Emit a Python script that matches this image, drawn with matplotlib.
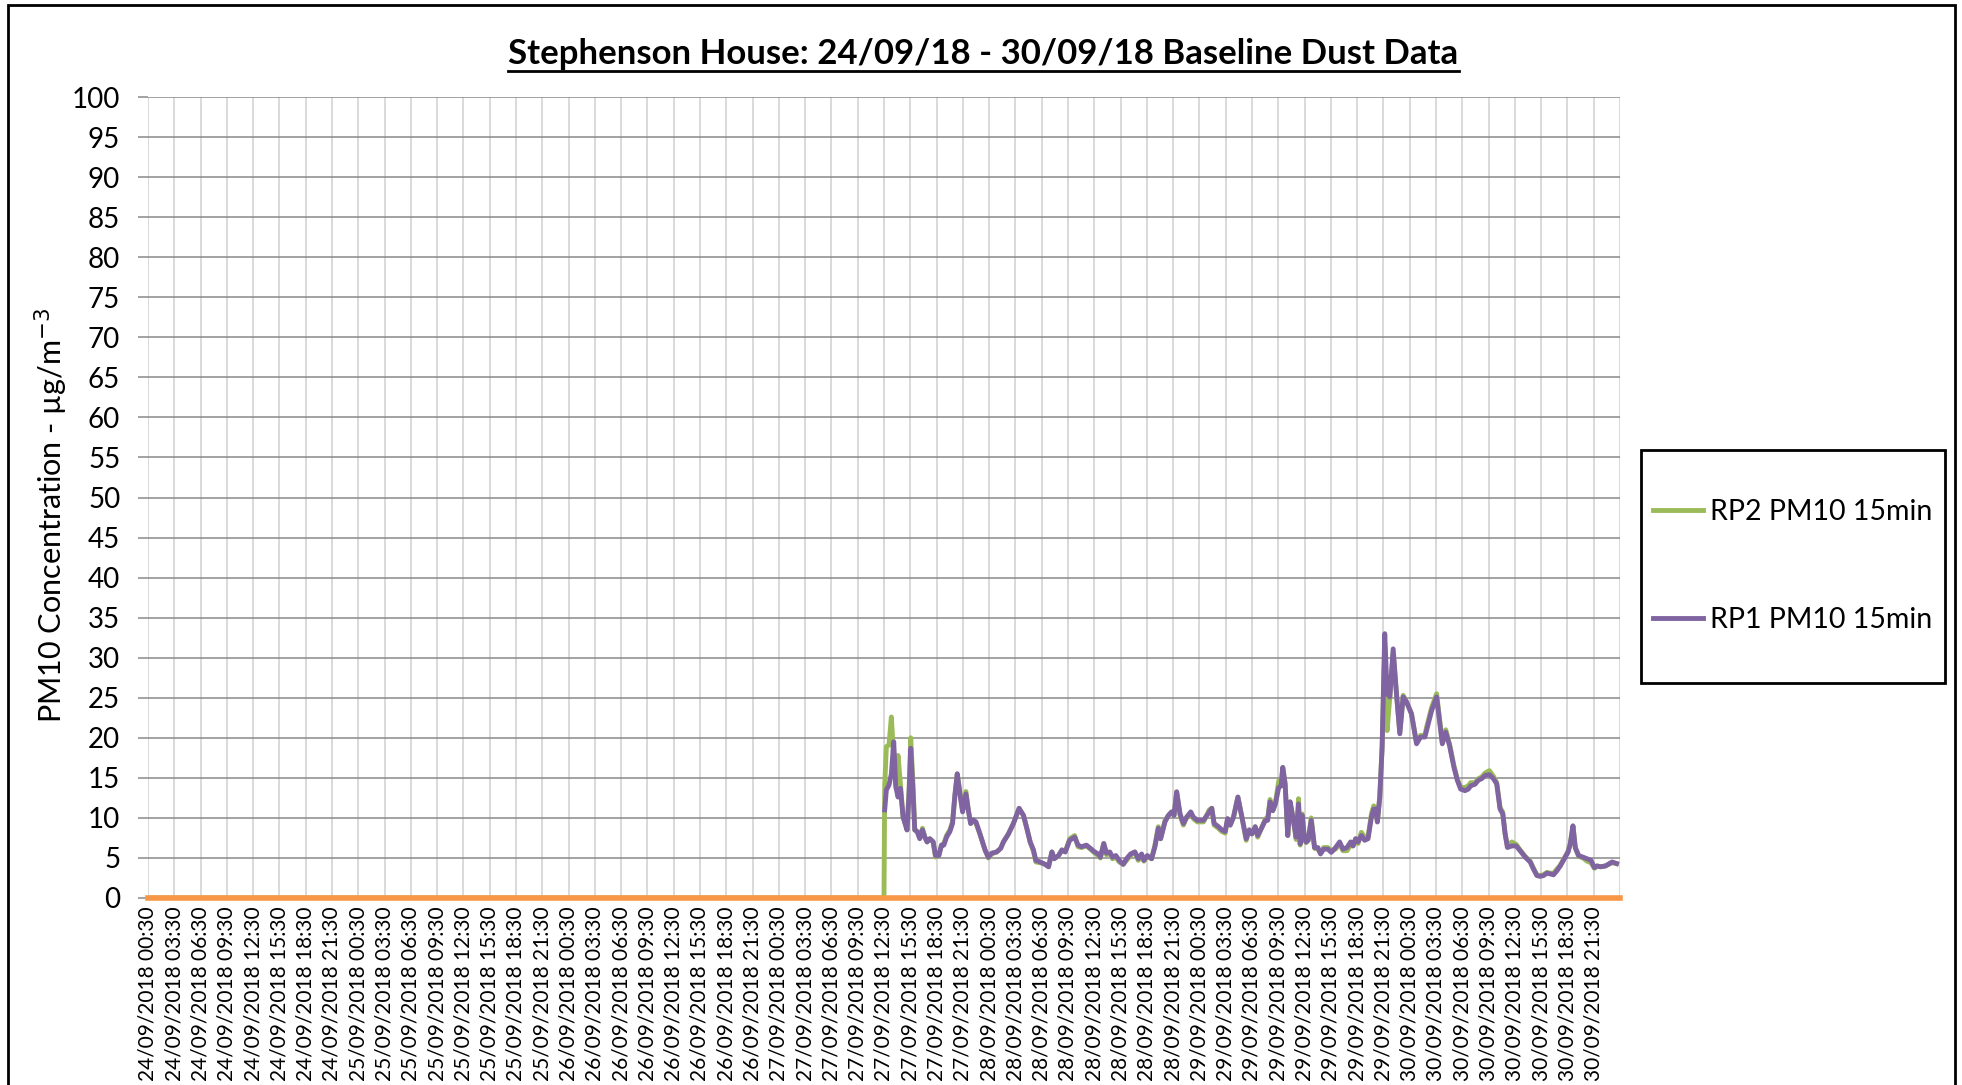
import pandas as pd
import matplotlib
matplotlib.use('Agg')
import matplotlib.pyplot as plt
from matplotlib.patches import Rectangle
from matplotlib.lines import Line2D

plt.rcParams['font.family'] = ['Lato', 'DejaVu Sans']

# x = hours after 24/09/2018 00:30 (15 min logger data)
hours = [84.08, 84.27, 84.57, 84.84, 85.11, 85.34, 85.60, 85.87, 86.18, 86.63,
         86.86, 87.05, 87.32, 87.51, 87.78, 88.08, 88.39, 88.66, 88.92, 89.23,
         89.61, 89.88, 90.26, 90.56, 90.83, 91.14, 91.52, 91.82, 92.09, 92.36,
         92.66, 92.97, 93.35, 93.62, 93.89, 94.19, 94.50, 94.95, 95.53, 95.91,
         96.29, 96.86, 97.32, 97.63, 98.20, 98.77, 99.42, 99.92, 100.30, 100.68,
         101.06, 101.33, 101.82, 102.40, 102.78, 103.16, 103.43, 103.92, 104.31, 104.69,
         105.19, 105.76, 106.15, 106.53, 107.10, 107.56, 108.05, 108.44, 108.70, 109.08,
         109.39, 109.77, 110.08, 110.46, 110.84, 111.30, 111.68, 112.14, 112.63, 113.02,
         113.40, 113.66, 114.05, 114.54, 114.92, 115.31, 115.57, 116.07, 116.45, 116.83,
         117.10, 117.40, 117.79, 118.17, 118.55, 119.01, 119.31, 119.77, 120.46, 120.84,
         121.11, 121.41, 121.68, 122.18, 122.56, 122.94, 123.21, 123.51, 123.89, 124.39,
         124.85, 125.34, 125.69, 125.99, 126.37, 126.65, 127.03, 127.53, 127.79, 128.06,
         128.37, 128.67, 129.05, 129.32, 129.51, 129.78, 130.08, 130.35, 130.66, 131.04,
         131.31, 131.50, 131.73, 131.99, 132.18, 132.41, 132.76, 133.14, 133.52, 133.82,
         134.17, 134.66, 135.05, 135.54, 136.00, 136.38, 136.84, 137.26, 137.53, 137.83,
         138.10, 138.48, 138.86, 139.24, 139.63, 139.89, 140.12, 140.31, 140.58, 140.85,
         141.15, 141.42, 141.73, 142.11, 142.49, 142.87, 143.25, 143.63, 144.20, 144.78,
         145.24, 145.73, 145.92, 146.50, 147.07, 147.72, 148.11, 148.55, 149.05, 149.43,
         149.81, 150.31, 150.69, 150.95, 151.45, 151.83, 152.21, 152.60, 153.09, 153.55,
         153.93, 154.31, 154.62, 154.89, 155.15, 155.65, 156.15, 156.60, 157.18, 157.75,
         158.13, 158.51, 158.89, 159.27, 159.66, 160.04, 160.42, 160.80, 161.18, 161.64,
         162.06, 162.33, 162.63, 162.90, 163.28, 163.78, 164.24, 164.69, 165.08, 165.38,
         165.76, 166.34, 166.72, 167.10, 167.60]

rp1 = [11.0, 13.5, 14.1, 15.5, 19.5, 13.9, 12.6, 13.7, 10.1, 8.5,
       13.0, 18.7, 13.0, 8.5, 8.3, 7.4, 8.5, 7.6, 7.0, 7.4,
       7.0, 5.3, 5.3, 6.6, 6.6, 7.6, 8.3, 9.3, 12.8, 15.5,
       13.0, 10.75, 13.0, 11.0, 9.3, 9.75, 9.5, 8.0, 6.0, 5.1,
       5.6, 5.75, 6.2, 7.0, 8.0, 9.3, 11.2, 10.3, 8.7, 7.0,
       6.0, 4.7, 4.5, 4.2, 3.9, 5.75, 4.9, 5.3, 6.0, 5.75,
       7.2, 7.6, 6.6, 6.4, 6.6, 6.2, 5.75, 5.5, 5.1, 6.8,
       5.6, 5.75, 5.1, 5.3, 4.7, 4.2, 4.9, 5.5, 5.75, 4.9,
       5.5, 4.7, 5.3, 4.9, 6.4, 8.7, 7.4, 9.5, 10.3, 10.75,
       10.3, 13.25, 10.5, 9.3, 10.1, 10.75, 10.1, 9.7, 9.7, 10.3,
       10.75, 11.2, 9.3, 8.9, 8.5, 8.3, 9.9, 9.1, 10.1, 12.6,
       10.1, 7.4, 8.5, 8.0, 8.9, 7.8, 8.6, 9.7, 9.7, 12.0,
       10.9, 11.75, 13.8, 14.0, 16.3, 14.25, 7.8, 12.0, 10.1, 7.6,
       11.75, 6.75, 10.3, 7.4, 7.0, 7.2, 9.7, 6.3, 6.3, 5.5,
       6.1, 6.1, 5.7, 6.3, 7.0, 6.1, 6.3, 7.0, 6.5, 7.4,
       7.0, 7.8, 7.2, 7.4, 10.1, 11.1, 11.1, 9.5, 12.6, 18.8,
       33.0, 25.5, 25.1, 31.1, 25.5, 20.5, 25.1, 24.5, 23.0, 19.25,
       20.1, 20.1, 20.9, 23.4, 25.1, 19.25, 20.7, 19.0, 16.3, 14.7,
       13.6, 13.4, 13.6, 14.0, 14.2, 14.7, 14.9, 15.3, 15.4, 14.9,
       14.25, 11.1, 10.5, 8.0, 6.3, 6.5, 6.5, 5.9, 5.1, 4.5,
       3.6, 2.8, 2.7, 2.8, 3.1, 3.0, 2.9, 3.4, 4.0, 4.9,
       5.7, 6.75, 9.0, 6.3, 5.3, 5.1, 4.9, 4.7, 3.8, 4.0,
       3.9, 4.0, 4.25, 4.5, 4.3]

# RP2 logged zero until 27/09 12:30
rp2_hours = [0.0, 84.0] + hours
rp2 = [0.0, 0.0,
       14.0, 18.9, 19.1, 22.6, 17.5, 14.3, 17.8, 14.3, 10.1, 8.5,
       13.5, 20.0, 14.0, 8.5, 8.3, 7.6, 8.7, 7.6, 7.0, 7.4,
       7.0, 5.1, 5.3, 6.6, 6.8, 7.8, 8.5, 9.5, 12.8, 15.5,
       13.3, 10.9, 13.3, 11.0, 9.3, 9.75, 9.3, 8.0, 6.0, 5.0,
       5.5, 5.75, 6.2, 7.0, 8.0, 9.3, 11.2, 10.3, 8.7, 7.0,
       5.8, 4.5, 4.4, 4.2, 3.9, 5.75, 4.9, 5.3, 6.0, 5.75,
       7.4, 7.8, 6.4, 6.3, 6.5, 6.1, 5.6, 5.3, 5.0, 6.8,
       5.4, 5.6, 4.9, 5.1, 4.5, 4.2, 4.7, 5.3, 5.75, 4.7,
       5.3, 4.6, 5.2, 4.9, 6.6, 8.9, 7.4, 9.7, 10.3, 10.75,
       10.3, 13.25, 10.3, 9.1, 10.1, 10.6, 9.9, 9.5, 9.5, 10.3,
       11.0, 11.2, 9.1, 8.7, 8.3, 8.1, 9.9, 9.1, 10.1, 12.6,
       10.1, 7.2, 8.5, 8.0, 8.9, 7.6, 8.6, 9.9, 9.9, 12.3,
       10.9, 11.9, 14.6, 14.0, 16.3, 14.25, 7.8, 12.0, 10.1, 7.3,
       12.4, 6.6, 10.5, 7.2, 6.9, 7.2, 10.0, 6.2, 6.1, 5.6,
       6.3, 6.3, 5.9, 6.1, 6.8, 5.9, 5.9, 6.6, 6.5, 7.4,
       6.8, 8.2, 7.6, 7.6, 10.5, 11.5, 11.1, 9.5, 12.6, 18.8,
       31.5, 20.9, 25.1, 30.5, 25.5, 20.7, 25.3, 24.5, 23.0, 19.4,
       20.3, 20.3, 21.3, 23.8, 25.5, 19.4, 21.0, 19.2, 16.5, 14.9,
       13.8, 13.8, 14.0, 14.4, 14.4, 14.9, 15.1, 15.6, 15.9, 15.2,
       14.4, 11.3, 10.7, 8.0, 6.5, 7.0, 6.7, 6.0, 5.2, 4.6,
       3.7, 2.9, 2.8, 2.9, 3.2, 3.1, 3.1, 3.6, 4.1, 5.0,
       5.8, 6.9, 9.0, 6.2, 5.2, 5.0, 4.6, 4.4, 3.7, 4.0,
       3.9, 4.0, 4.2, 4.4, 4.3]

# third series sitting on zero across the week
zero_hours = [0.0, 168.0]
zero_vals = [0.0, 0.0]

tick_hours = list(range(0, 169, 3))
tick_labels = list(pd.date_range('2018-09-24 00:30', periods=56, freq='3h').strftime('%d/%m/%Y %H:%M')) + ['']

fig = plt.figure(figsize=(19.62, 10.85), dpi=100)
ax = fig.add_axes([148 / 1962, 1 - 898 / 1085, 1472 / 1962, 801 / 1085])

ax.plot(rp2_hours, rp2, color='#9BBB59', lw=3.5, label='RP2 PM10 15min', zorder=3)
ax.plot(hours, rp1, color='#8064A2', lw=3.5, label='RP1 PM10 15min', zorder=4)
ax.plot(zero_hours, zero_vals, color='#F79646', lw=4, label='_nolegend_', zorder=5, clip_on=False)

ax.set_xlim(0, 168)
ax.set_ylim(0, 100)
ax.set_yticks(range(0, 101, 5))
ax.set_xticks(tick_hours)
ax.set_xticklabels(tick_labels, rotation=90, fontsize=15)
ax.tick_params(axis='y', labelsize=20, length=7, color='#898989', width=1.1, pad=13)
ax.tick_params(axis='x', length=0, pad=6)
for s in ax.spines.values():
    s.set_visible(False)
ax.grid(axis='y', color='#898989', lw=1.1, zorder=0)
ax.grid(axis='x', color='#d0d0d0', lw=1.1, zorder=0)
ax.set_axisbelow(True)

ax.set_ylabel('PM10 Concentration - µg/m$^{-3}$', fontsize=22)
ax.yaxis.set_label_coords(-0.053, 0.478)

title = fig.text(0.5013, 0.9505, 'Stephenson House: 24/09/18 - 30/09/18 Baseline Dust Data',
                 fontsize=25, fontweight='bold', ha='center', va='center')

# legend: entries without frame, box drawn separately
ax.legend(loc='center left', bbox_to_anchor=(1653 / 1962, 1 - 566 / 1085),
          bbox_transform=fig.transFigure, frameon=False, fontsize=20.5,
          handlelength=1.75, handletextpad=0.25, labelspacing=2.9,
          borderpad=0, borderaxespad=0)
fig.patches.append(Rectangle((1641 / 1962, 1 - 683 / 1085), 304 / 1962, 233 / 1085,
                             transform=fig.transFigure, fill=False, ec='black', lw=2))

# outer chart border
fig.patches.append(Rectangle((8 / 1962, -0.02), 1947 / 1962, 1.02 - 5 / 1085,
                             transform=fig.transFigure, fill=False, ec='black', lw=2))

# underline the title
fig.canvas.draw()
bb = title.get_window_extent()
fig.lines.append(Line2D([bb.x0, bb.x1], [bb.y0 - 1, bb.y0 - 1], transform=None, color='black', lw=2))

fig.savefig('out.png', dpi=100)
